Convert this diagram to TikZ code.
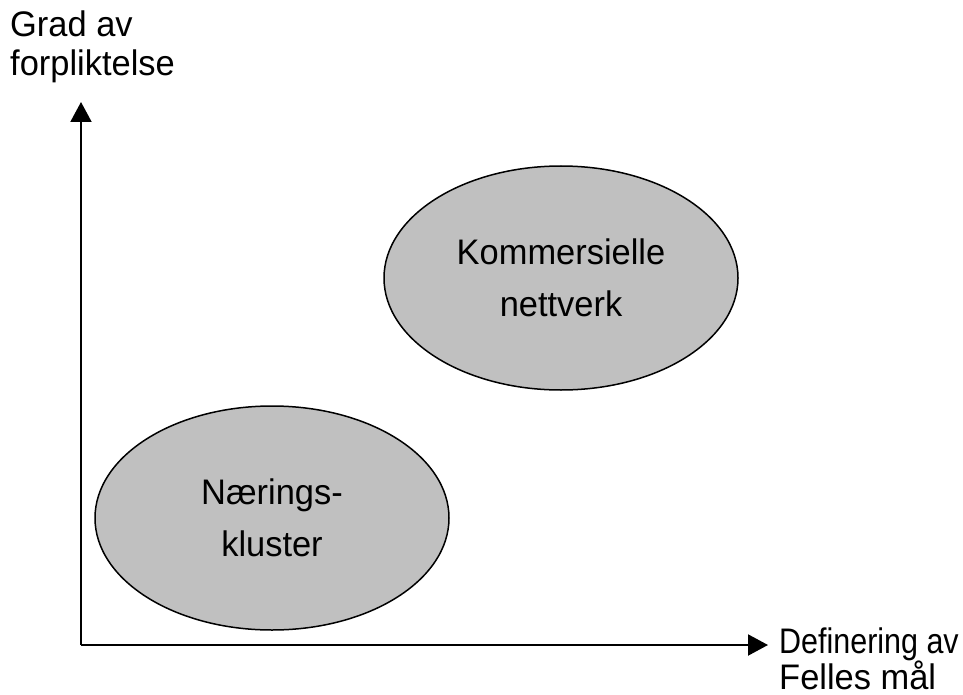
\documentclass[tikz,border=0pt]{standalone}
\usepackage{fontspec}
\usepackage{graphicx}
\setmainfont[FakeStretch=0.97]{Liberation Sans}
\usetikzlibrary{shapes.geometric,arrows.meta}
\definecolor{ellgray}{RGB}{192,192,192}
\tikzset{
  axis/.style={line width=2pt,-{Triangle[length=20pt,width=21pt]}},
  blob/.style={ellipse,draw=black,line width=1.5pt,fill=ellgray,
    minimum width=354pt,minimum height=224pt,inner sep=0pt,
    align=center,font=\fontsize{35.5pt}{52pt}\selectfont},
  lbl/.style={inner sep=0pt,anchor=base west,font=\fontsize{35.5pt}{39pt}\selectfont}
}
\begin{document}
\begin{tikzpicture}[x=1pt,y=-1pt]
\useasboundingbox (0,0) rectangle (963,695);
\coordinate (o) at (81,645);
\coordinate (ytip) at (81,102);
\coordinate (xtip) at (768,645);
\draw[axis] (o) -- (ytip);
\draw[axis] (o) -- (xtip);
\node[blob] (kn) at (561,278) {Kommersielle\\nettverk};
\node[blob] (nk) at (272,518) {Nærings-\\kluster};
\node[lbl] (y1) at (10,37) {Grad av};
\node[lbl] (y2) at (10,76) {forpliktelse};
\node[lbl] (x1) at (779,653) {\scalebox{0.885}[1]{Definering av}};
\node[lbl] (x2) at (779,689) {Felles mål};
\end{tikzpicture}
\end{document}
